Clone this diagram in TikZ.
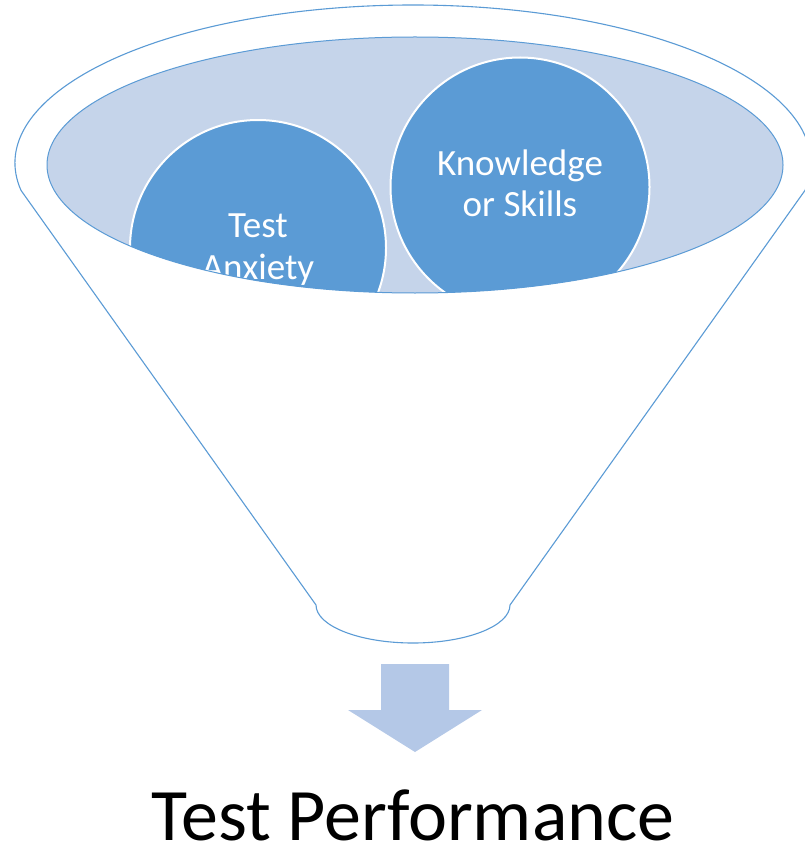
\documentclass[tikz,border=0pt]{standalone}
\usepackage{fontspec}
\setmainfont{Carlito}
\definecolor{accent}{HTML}{5B9BD5}
\definecolor{basin}{HTML}{C5D4EA}
\definecolor{flow}{HTML}{B4C8E7}
\begin{document}
\begin{tikzpicture}[x=1pt,y=1pt,
  funnelline/.style={draw=accent,line width=1.1pt},
  ball/.style={fill=accent,draw=white,line width=2pt},
  balltext/.style={text=white,font=\fontsize{37}{42}\selectfont,anchor=base,inner sep=0pt}]
\useasboundingbox (0,0) rectangle (804,-850);

% funnel body: rim over the top, straight sides, rounded spout
\draw[funnelline,fill=white]
  (413,-163) ++(190:398 and 158) arc[start angle=190,end angle=-10,x radius=398,y radius=158]
  -- (510,-605) arc[start angle=0,end angle=-180,x radius=97,y radius=38]
  -- cycle;

% contents seen through the mouth
\fill[basin] (415,-165) ellipse[x radius=368,y radius=128];
\begin{scope}
  \clip (415,-165) ellipse[x radius=368,y radius=128];
  \draw[ball] (258,-248) circle[radius=128];
  \draw[ball] (520,-187) circle[radius=129.5];
  \node[balltext] (ta1) at (258,-237) {Test};
  \node[balltext] (ta2) at (258,-279) {Anxiety};
  \node[balltext] (ks1) at (520,-176) {Knowledge};
  \node[balltext] (ks2) at (520,-217) {or Skills};
\end{scope}
\draw[draw=accent,line width=1pt] (415,-165) ellipse[x radius=368,y radius=128];

% outflow arrow
\fill[flow] (381,-664) -- (449,-664) -- (449,-710) -- (482,-710)
  -- (415,-752) -- (348,-710) -- (381,-710) -- cycle;

\node[anchor=base,inner sep=0pt,font=\fontsize{74}{88}\selectfont] (result) at (413,-840) {Test Performance};
\end{tikzpicture}
\end{document}
